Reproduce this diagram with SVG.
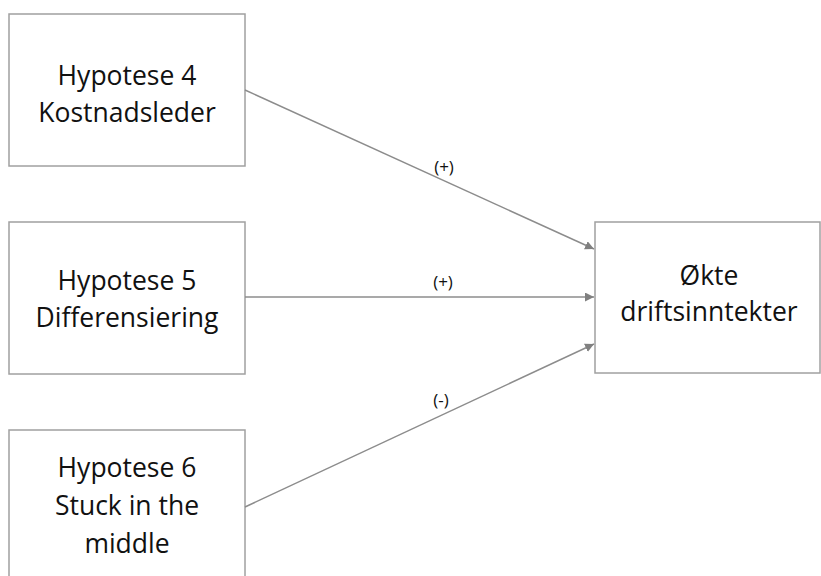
<svg xmlns="http://www.w3.org/2000/svg" width="821" height="576" viewBox="0 0 821 576">
<style>
.box{fill:#fff;stroke:#a0a0a0;stroke-width:1.5}
.t{font-family:"Open Sans","Liberation Sans",sans-serif;font-size:26.5px;fill:#111;text-anchor:middle}
.l{font-family:"Open Sans","Liberation Sans",sans-serif;font-size:17px;fill:#111;text-anchor:middle}
.c{stroke:#8c8c8c;stroke-width:1.5;fill:none;marker-end:url(#a)}
</style>
<defs>
<marker id="a" viewBox="0 0 10 10" refX="10" refY="5" markerWidth="9" markerHeight="9" markerUnits="userSpaceOnUse" orient="auto">
<path d="M0,0 L10,5 L0,10 z" fill="#808080"/>
</marker>
</defs>
<rect width="821" height="576" fill="#fff"/>
<g id="h4">
<rect class="box" x="9" y="14" width="236" height="152"/>
<text class="t" x="127" y="85">Hypotese 4</text>
<text class="t" x="127" y="122">Kostnadsleder</text>
</g>
<g id="h5">
<rect class="box" x="9" y="222" width="236" height="152"/>
<text class="t" x="127" y="290">Hypotese 5</text>
<text class="t" x="127" y="327">Differensiering</text>
</g>
<g id="h6">
<rect class="box" x="9" y="430" width="236" height="152"/>
<text class="t" x="127" y="477">Hypotese 6</text>
<text class="t" x="127" y="515">Stuck in the</text>
<text class="t" x="127" y="553">middle</text>
</g>
<g id="okte">
<rect class="box" x="595" y="222" width="225" height="151"/>
<text class="t" x="709" y="285">Økte</text>
<text class="t" x="709" y="321">driftsinntekter</text>
</g>
<g id="connectors">
<line class="c" x1="245" y1="90" x2="594" y2="249"/>
<line class="c" x1="245" y1="297" x2="594" y2="297"/>
<line class="c" x1="245" y1="507" x2="594" y2="344"/>
<text class="l" x="444" y="173">(+)</text>
<text class="l" x="443" y="288">(+)</text>
<text class="l" x="441" y="406">(-)</text>
</g>
</svg>
